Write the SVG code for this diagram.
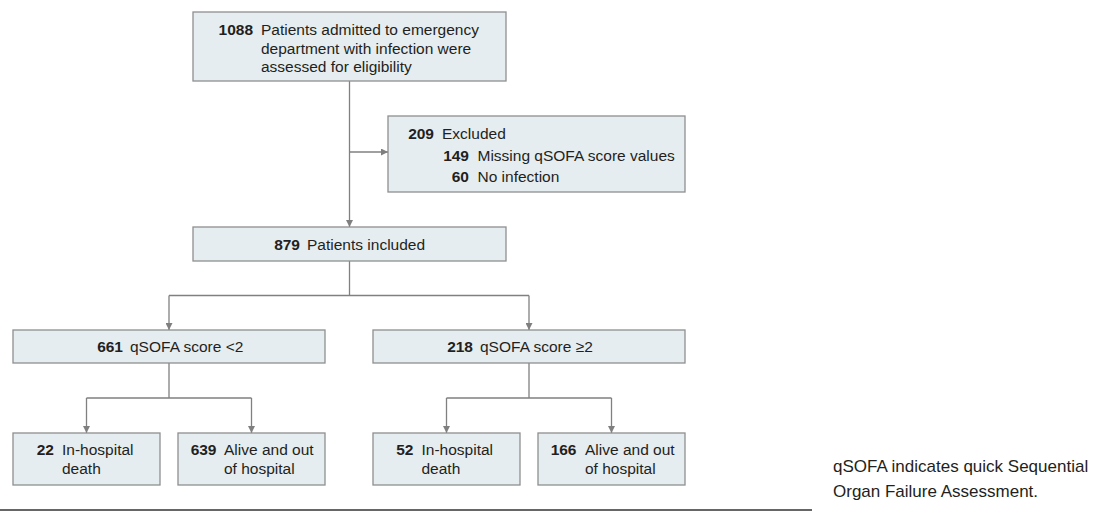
<svg xmlns="http://www.w3.org/2000/svg" width="1101" height="513" viewBox="0 0 1101 513">
<defs>
<marker id="ah" viewBox="0 0 10 10" refX="10" refY="5" markerWidth="7" markerHeight="7" markerUnits="userSpaceOnUse" orient="auto">
<path d="M0,0 L10,5 L0,10 z" fill="#7f7f7f"/>
</marker>
<style>
.box{fill:#e6edf1;stroke:#8f8f8f;stroke-width:1.3}
.t{font-family:"Liberation Sans",Arial,sans-serif;font-size:15.5px;fill:#231f20}
.b{font-weight:bold}
.e{text-anchor:end}
.c{fill:none;stroke:#808080;stroke-width:1.3}
.a{marker-end:url(#ah)}
.fn{font-family:"Liberation Sans",Arial,sans-serif;font-size:17px;fill:#231f20}
</style>
</defs>
<rect width="1101" height="513" fill="#ffffff"/>
<g id="connectors">
<path class="c a" d="M349.5,81 V227"/>
<path class="c a" d="M349.5,152 H388"/>
<path class="c" d="M349.5,261 V295.5 M169,295.5 H529"/>
<path class="c a" d="M169,295.5 V330"/>
<path class="c a" d="M529,295.5 V330"/>
<path class="c" d="M169,363 V398 M86.5,398 H251.5"/>
<path class="c a" d="M86.5,398 V433"/>
<path class="c a" d="M251.5,398 V433"/>
<path class="c" d="M529,363 V398 M446.5,398 H611.5"/>
<path class="c a" d="M446.5,398 V433"/>
<path class="c a" d="M611.5,398 V433"/>
</g>
<g id="n1088">
<rect class="box" x="193" y="12" width="313" height="69"/>
<text class="t b e" x="253" y="35">1088</text>
<text class="t" x="261" y="35">Patients admitted to emergency</text>
<text class="t" x="261" y="53.5">department with infection were</text>
<text class="t" x="261" y="72">assessed for eligibility</text>
</g>
<g id="excluded">
<rect class="box" x="388" y="116" width="297" height="76"/>
<text class="t b e" x="434" y="139">209</text>
<text class="t" x="442" y="139">Excluded</text>
<text class="t b e" x="469" y="160.5">149</text>
<text class="t" x="477.5" y="160.5">Missing qSOFA score values</text>
<text class="t b e" x="469" y="182">60</text>
<text class="t" x="477.5" y="182">No infection</text>
</g>
<g id="n879">
<rect class="box" x="193" y="227" width="313" height="34"/>
<text class="t b e" x="300" y="250">879</text>
<text class="t" x="307" y="250">Patients included</text>
</g>
<g id="n661">
<rect class="box" x="13" y="330" width="312" height="33"/>
<text class="t b e" x="123" y="352">661</text>
<text class="t" x="130" y="352">qSOFA score &lt;2</text>
</g>
<g id="n218">
<rect class="box" x="373" y="330" width="312" height="33"/>
<text class="t b e" x="473" y="352">218</text>
<text class="t" x="480" y="352">qSOFA score ≥2</text>
</g>
<g id="n22">
<rect class="box" x="13" y="433" width="147" height="52"/>
<text class="t b e" x="54" y="455">22</text>
<text class="t" x="62" y="455">In-hospital</text>
<text class="t" x="62" y="474">death</text>
</g>
<g id="n639">
<rect class="box" x="178" y="433" width="147" height="52"/>
<text class="t b e" x="216.5" y="455">639</text>
<text class="t" x="224" y="455">Alive and out</text>
<text class="t" x="224" y="474">of hospital</text>
</g>
<g id="n52">
<rect class="box" x="373" y="433" width="147" height="52"/>
<text class="t b e" x="413.5" y="455">52</text>
<text class="t" x="421.5" y="455">In-hospital</text>
<text class="t" x="421.5" y="474">death</text>
</g>
<g id="n166">
<rect class="box" x="538" y="433" width="147" height="52"/>
<text class="t b e" x="576.5" y="455">166</text>
<text class="t" x="585" y="455">Alive and out</text>
<text class="t" x="585" y="474">of hospital</text>
</g>
<line x1="0" y1="510" x2="812" y2="510" stroke="#333333" stroke-width="1.5"/>
<text class="fn" x="833" y="472">qSOFA indicates quick Sequential</text>
<text class="fn" x="833" y="497">Organ Failure Assessment.</text>
</svg>
